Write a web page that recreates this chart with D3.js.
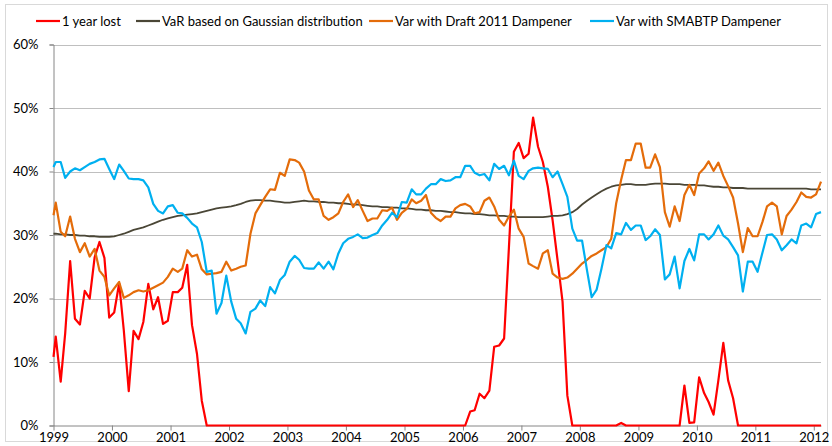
<!DOCTYPE html>
<html>
<head>
<meta charset="utf-8">
<script src="https://cdn.jsdelivr.net/npm/d3@7"></script>
<style>
  body { margin: 0; background: #fff; }
  text { font-family: Lato, 'Open Sans', sans-serif; fill: #000; }
</style>
</head>
<body>
<div id="chart"></div>
<script>
// series names and colours, in legend order
let seriesNames = ['1 year lost', 'VaR based on Gaussian distribution', 'Var with Draft 2011 Dampener', 'Var with SMABTP Dampener']
let seriesColors = ['#ff0000', '#4a4636', '#e46c0a', '#00b0f0']

// first reading sits on the axis (1 Jan 1999), then one reading per month (mid-month) to Feb 2012
let dates = [new Date(1999, 0, 1)].concat(
  d3.timeMonth.range(new Date(1999, 0, 1), new Date(2012, 2, 1)).map(d => d3.timeDay.offset(d, 14))
)

let yearTicks = [1999, 2000, 2001, 2002, 2003, 2004, 2005, 2006, 2007, 2008, 2009, 2010, 2011, 2012]
let pctTicks = [0, 10, 20, 30, 40, 50, 60]

// values in %, first value then one row per year
let oneYearLost = [10.8,
  14.0, 6.9, 14.5, 25.9, 16.8, 15.9, 21.2, 20.0, 26.5, 28.9, 26.4, 17.0,
  17.8, 22.4, 15.0, 5.4, 14.9, 13.6, 16.3, 22.3, 18.3, 20.2, 16.0, 16.5,
  21.0, 21.0, 21.7, 25.3, 15.8, 11.3, 3.9, 0, 0, 0, 0, 0,
  0, 0, 0, 0, 0, 0, 0, 0, 0, 0, 0, 0,
  0, 0, 0, 0, 0, 0, 0, 0, 0, 0, 0, 0,
  0, 0, 0, 0, 0, 0, 0, 0, 0, 0, 0, 0,
  0, 0, 0, 0, 0, 0, 0, 0, 0, 0, 0, 0,
  0, 2.2, 2.4, 5.0, 4.3, 5.5, 12.4, 12.6, 13.7, 28.0, 43.1, 44.5,
  42.1, 42.8, 48.5, 43.9, 41.5, 37.6, 32.3, 26.0, 19.5, 4.7, 0, 0,
  0, 0, 0, 0, 0, 0, 0, 0, 0.4, 0, 0, 0,
  0, 0, 0, 0, 0, 0, 0, 0, 0, 6.3, 0.4, 0.5,
  7.6, 5.1, 3.7, 1.7, 7.1, 13.0, 7.1, 4.3, 0, 0, 0, 0,
  0, 0, 0, 0, 0, 0, 0, 0, 0, 0, 0, 0,
  0, 0]

let varGaussian = [30.2,
  30.2, 30.1, 30.1, 30.0, 30.0, 29.9, 29.9, 29.8, 29.8, 29.7, 29.7, 29.7,
  29.8, 30.0, 30.2, 30.5, 30.8, 31.0, 31.2, 31.5, 31.8, 32.1, 32.4, 32.6,
  32.8, 33.0, 33.1, 33.2, 33.3, 33.4, 33.6, 33.8, 34.0, 34.2, 34.3, 34.4,
  34.5, 34.7, 34.9, 35.2, 35.4, 35.5, 35.5, 35.4, 35.4, 35.3, 35.2, 35.1,
  35.1, 35.2, 35.3, 35.4, 35.3, 35.3, 35.2, 35.2, 35.1, 35.1, 35.0, 35.0,
  34.9, 34.8, 34.8, 34.7, 34.6, 34.5, 34.5, 34.4, 34.4, 34.3, 34.3, 34.2,
  34.2, 34.1, 34.0, 34.0, 33.9, 33.9, 33.8, 33.8, 33.7, 33.6, 33.6, 33.5,
  33.4, 33.4, 33.3, 33.3, 33.2, 33.1, 33.1, 33.0, 33.0, 32.9, 32.9, 32.8,
  32.8, 32.8, 32.8, 32.8, 32.8, 32.9, 33.0, 33.0, 33.1, 33.3, 33.6, 34.1,
  34.8, 35.4, 35.9, 36.4, 36.9, 37.3, 37.6, 37.8, 37.9, 38.0, 38.0, 37.9,
  37.9, 37.9, 38.0, 38.1, 38.1, 38.1, 38.0, 38.0, 38.0, 37.9, 37.9, 37.9,
  37.8, 37.8, 37.7, 37.6, 37.6, 37.5, 37.5, 37.4, 37.4, 37.4, 37.3, 37.3,
  37.3, 37.3, 37.3, 37.3, 37.3, 37.3, 37.3, 37.3, 37.3, 37.3, 37.3, 37.2,
  37.2, 37.2]

let varDraft2011 = [33.1,
  35.1, 30.5, 29.8, 32.9, 29.4, 27.3, 28.7, 26.6, 27.8, 24.4, 23.4, 20.5,
  21.6, 22.6, 20.1, 20.5, 21.0, 21.3, 21.1, 21.3, 21.7, 22.1, 22.5, 23.4,
  24.7, 24.2, 24.7, 27.6, 26.6, 26.9, 24.6, 23.8, 23.9, 24.0, 24.2, 25.8,
  24.4, 24.7, 25.0, 25.2, 30.2, 33.4, 34.7, 36.0, 37.2, 37.1, 39.8, 39.3,
  41.9, 41.8, 41.4, 40.0, 37.0, 35.6, 35.6, 33.0, 32.4, 32.8, 33.4, 35.2,
  36.4, 34.4, 35.5, 33.8, 32.2, 32.6, 32.6, 33.9, 33.8, 34.3, 32.4, 33.5,
  34.1, 35.6, 35.0, 35.4, 36.3, 33.5, 32.7, 32.2, 32.9, 32.9, 34.2, 34.7,
  34.9, 34.5, 33.4, 33.6, 35.4, 35.9, 34.5, 32.4, 31.5, 32.9, 34.0, 31.0,
  29.7, 25.5, 25.1, 24.7, 27.1, 27.6, 23.9, 23.3, 23.1, 23.3, 23.9, 24.7,
  25.5, 26.1, 26.7, 27.1, 27.6, 28.1, 29.4, 35.0, 38.7, 41.8, 41.8, 44.4,
  44.4, 40.6, 40.6, 42.7, 40.7, 33.6, 31.3, 34.5, 32.2, 36.3, 37.9, 36.3,
  39.7, 40.5, 41.6, 40.1, 41.4, 39.3, 37.7, 35.9, 31.8, 27.3, 31.1, 29.8,
  29.8, 32.1, 34.5, 35.1, 34.5, 30.1, 33.0, 34.0, 35.2, 36.7, 36.0, 35.9,
  36.4, 38.4]

let varSmabtp = [40.7,
  41.5, 41.5, 39.0, 40.0, 40.5, 40.2, 40.7, 41.2, 41.5, 41.9, 42.0, 40.4,
  38.8, 41.1, 40.1, 38.9, 38.8, 38.8, 38.6, 37.5, 34.9, 33.8, 33.4, 34.5,
  34.7, 33.5, 33.4, 32.7, 31.8, 31.2, 28.9, 24.2, 24.4, 17.6, 19.3, 23.6,
  19.5, 16.8, 16.1, 14.5, 17.9, 18.4, 19.7, 18.8, 21.8, 20.8, 22.9, 23.7,
  25.8, 26.7, 26.1, 24.8, 24.7, 24.7, 25.7, 24.7, 25.8, 24.6, 27.1, 28.7,
  29.4, 29.7, 30.1, 29.5, 29.6, 30.0, 30.3, 31.5, 32.4, 33.5, 32.8, 35.2,
  35.1, 37.2, 36.4, 36.4, 37.3, 38.0, 38.0, 38.8, 38.5, 38.6, 39.1, 39.1,
  40.9, 40.9, 39.8, 39.4, 39.6, 38.6, 41.2, 40.4, 40.9, 39.4, 41.7, 39.3,
  38.8, 40.1, 40.5, 40.6, 40.5, 40.4, 39.1, 40.0, 38.0, 36.0, 31.0, 29.1,
  29.1, 24.4, 20.2, 21.4, 24.7, 28.4, 27.9, 30.3, 30.1, 31.9, 30.8, 31.5,
  31.5, 29.2, 29.8, 30.9, 30.0, 23.0, 23.8, 26.6, 21.6, 25.9, 27.8, 26.0,
  30.1, 30.1, 29.3, 30.1, 31.5, 29.9, 29.3, 28.1, 26.8, 21.1, 25.8, 25.8,
  24.2, 27.3, 30.0, 30.1, 29.3, 27.6, 28.4, 29.3, 28.7, 31.5, 31.8, 31.2,
  33.3, 33.6]

let seriesValues = [oneYearLost, varGaussian, varDraft2011, varSmabtp]

let width = 832
let height = 446

let svg = d3
  .select('#chart')
  .append('svg')
  .attr('width', width)
  .attr('height', height)

// outer chart border
svg.append('rect')
  .attr('x', 5.5)
  .attr('y', 4.5)
  .attr('width', 822)
  .attr('height', 437)
  .attr('fill', 'none')
  .attr('stroke', '#d9d9d9')

let xScale = d3.scaleTime()
  .domain([new Date(1999, 0, 1), dates[dates.length - 1]])
  .range([53.5, 821])

let yScale = d3.scaleLinear()
  .domain([0, 60])
  .range([425.5, 44.5])

// horizontal gridlines
svg.selectAll('.grid')
  .data(pctTicks.filter(d => d > 0))
  .enter()
  .append('line')
  .attr('class', 'grid')
  .attr('x1', xScale.range()[0])
  .attr('x2', xScale.range()[1])
  .attr('y1', d => Math.round(yScale(d)) + 0.5)
  .attr('y2', d => Math.round(yScale(d)) + 0.5)
  .attr('stroke', '#bfbfbf')

// y axis
let yAxis = d3.axisLeft(yScale)
  .tickValues(pctTicks)
  .tickFormat(d => d + '%')
  .tickSize(4)
  .tickPadding(11)

svg.append('g')
  .attr('transform', 'translate(53.5,0)')
  .call(yAxis)
  .call(g => g.selectAll('path, line').attr('stroke', '#868686'))
  .call(g => g.selectAll('text').attr('font-size', 13))

// x axis, ticks on 1 Jan of each year
let xAxis = d3.axisBottom(xScale)
  .tickValues(yearTicks.map(y => new Date(y, 0, 1)))
  .tickFormat(d3.timeFormat('%Y'))
  .tickSize(5)
  .tickPadding(2)
  .tickSizeOuter(0)

svg.append('g')
  .attr('transform', 'translate(0,425.5)')
  .call(xAxis)
  .call(g => g.selectAll('path, line').attr('stroke', '#868686'))
  .call(g => g.selectAll('text').attr('font-size', 13))

let line = d3.line()
  .x((d, i) => xScale(dates[i]))
  .y(d => yScale(d))

svg.selectAll('.series')
  .data(seriesValues)
  .enter()
  .append('path')
  .attr('class', 'series')
  .attr('d', d => line(d))
  .attr('fill', 'none')
  .attr('stroke', (d, i) => seriesColors[i])
  .attr('stroke-width', (d, i) => i === 1 ? 1.8 : 2.2)
  .attr('stroke-linejoin', 'round')

// legend
let legendX = [36, 136, 369, 590]

let legend = svg.append('g')
  .attr('transform', 'translate(0,21)')

legend.selectAll('.legend-entry')
  .data(seriesNames)
  .enter()
  .append('g')
  .attr('class', 'legend-entry')
  .attr('transform', (d, i) => `translate(${legendX[i]},0)`)
  .each(function (d, i) {
    let g = d3.select(this)
    g.append('line')
      .attr('x1', 0)
      .attr('x2', 24)
      .attr('stroke', seriesColors[i])
      .attr('stroke-width', 2.2)
    g.append('text')
      .text(d)
      .attr('x', 26)
      .attr('dy', '0.35em')
      .attr('font-size', 13)
  })
</script>
</body>
</html>
